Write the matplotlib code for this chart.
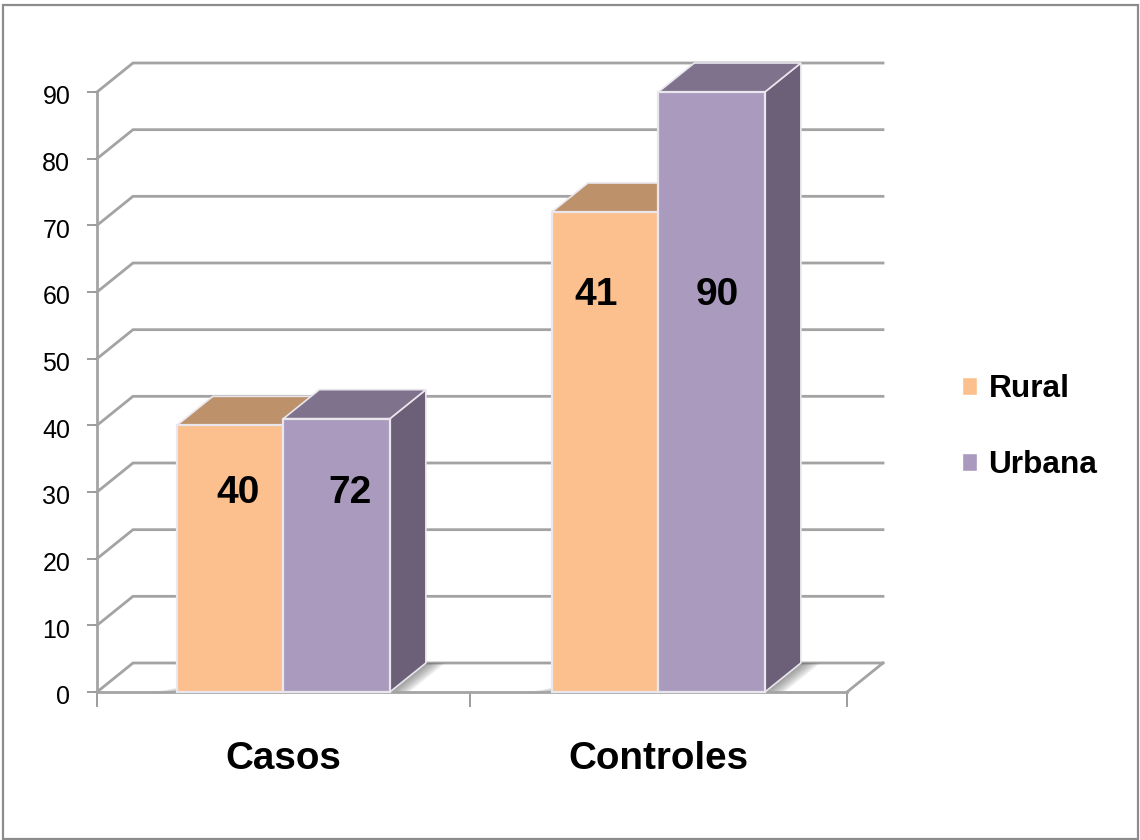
import numpy as np
import matplotlib
matplotlib.use('Agg')
import matplotlib.pyplot as plt
from matplotlib.patches import Polygon, Rectangle, Patch
from matplotlib.transforms import ScaledTranslation

plt.rcParams['font.family'] = ['Liberation Sans', 'DejaVu Sans']

categorias = ['Casos', 'Controles']
series = ['Rural', 'Urbana']
rural = [40, 72]
urbana = [41, 90]
# the labels printed on the bars do not follow the bar heights in the original
etiquetas_rural = ['40', '41']
etiquetas_urbana = ['72', '90']
yticks = [0, 10, 20, 30, 40, 50, 60, 70, 80, 90]

# colours: front, top, side
c_rural = ('#FCC08F', '#BD9169', '#BD9169')
c_urbana = ('#AA9ABE', '#7F728C', '#6B6077')
c_eje = '#A3A3A3'
c_borde = '#E9E6EE'

fig = plt.figure(figsize=(11.4, 8.4), dpi=100)
fig.patches.append(Rectangle((2.5/1140, 1.5/840), 1135.5/1140, 834/840, transform=fig.transFigure,
                             fill=False, ec='#8C8C8C', lw=1.6))
ax = fig.add_axes([97/1140, 148/840, 750/1140, 600/840])
ax.set_xlim(0, 2)
ax.set_ylim(0, 90)
ax.patch.set_visible(False)

dx = 36/375   # depth of the 3d box
dy = 29/(600/90)
ancho = 0.284
centros = np.array([0.497, 1.497])

# back wall lines
for v in yticks:
    ax.plot([0, dx, 2+dx], [v, v+dy, v+dy], color=c_eje, lw=2, zorder=1, clip_on=False,
            solid_joinstyle='miter')
ax.plot([2, 2+dx], [0, dy], color=c_eje, lw=2, zorder=1, clip_on=False)


def sombra(x0, x_izq):
    # soft floor shadow next to a bar
    for k in range(8):
        d = 0.0065*(k+1)
        ax.add_patch(Polygon([(x0, 0), (x0+d, 0), (x0+dx+d, dy), (x0+dx, dy)],
                             fc='#606060', ec='none', alpha=0.1, zorder=1.5, clip_on=False))
        ax.add_patch(Polygon([(x_izq-d*1.2, 0), (x_izq, 0), (x_izq, d*12)],
                             fc='#606060', ec='none', alpha=0.08, zorder=1.5, clip_on=False))


def barra(x0, h, colores, z):
    x1 = x0+ancho
    ax.add_patch(Polygon([(x1, 0), (x1+dx, dy), (x1+dx, h+dy), (x1, h)], fc=colores[2], ec=c_borde,
                         lw=1.2, zorder=z, clip_on=False))
    ax.add_patch(Polygon([(x0, h), (x0+dx, h+dy), (x1+dx, h+dy), (x1, h)], fc=colores[1], ec=c_borde,
                         lw=1.2, zorder=z, clip_on=False))
    ax.bar(x0, h, ancho, align='edge', color=colores[0], ec=c_borde, lw=1.6, zorder=z+0.1, clip_on=False)


for i, c in enumerate(centros):
    sombra(c+ancho, c-ancho)
    barra(c-ancho, rural[i], c_rural, 2+i)
    barra(c, urbana[i], c_urbana, 2.5+i)

# data labels, placed by hand as in the original
fs_et = 28
ax.text(0.376, 29.9, etiquetas_rural[0], ha='center', va='center', fontsize=fs_et, fontweight='bold', zorder=6)
ax.text(0.675, 29.9, etiquetas_urbana[0], ha='center', va='center', fontsize=fs_et, fontweight='bold', zorder=6)
ax.text(1.331, 59.5, etiquetas_rural[1], ha='center', va='center', fontsize=fs_et, fontweight='bold', zorder=6)
ax.text(1.653, 59.5, etiquetas_urbana[1], ha='center', va='center', fontsize=fs_et, fontweight='bold', zorder=6)

ax.set_yticks(yticks)
ax.set_xticks(centros, categorias, fontsize=27.8, fontweight='bold')
ax.set_xticks([0, 0.995, 2], minor=True)
ax.tick_params(axis='y', length=7.2, width=1.2, color='#8C8C8C', pad=12, labelsize=18)
ax.tick_params(axis='x', which='major', length=0, pad=35)
ax.tick_params(axis='x', which='minor', length=10.8, width=1.2, color='#8C8C8C')
bajar = ScaledTranslation(0, -3/72*72/100, fig.dpi_scale_trans)
for lab in ax.get_yticklabels():
    lab.set_transform(lab.get_transform() + bajar)
for s in ['top', 'right']:
    ax.spines[s].set_visible(False)
for s in ['left', 'bottom']:
    ax.spines[s].set_color(c_eje)
    ax.spines[s].set_linewidth(2)
    ax.spines[s].set_zorder(1.8)

handles = [Patch(fc=c_rural[0], ec='white'), Patch(fc=c_urbana[0], ec='white')]
fig.legend(handles, series, loc='center left', bbox_to_anchor=(933/1140, 1-427/840), frameon=False,
           prop={'size': 22.8, 'weight': 'bold'}, handlelength=0.5, handleheight=0.5,
           handletextpad=0.35, labelspacing=1.45)

fig.savefig('out.png', dpi=100)
